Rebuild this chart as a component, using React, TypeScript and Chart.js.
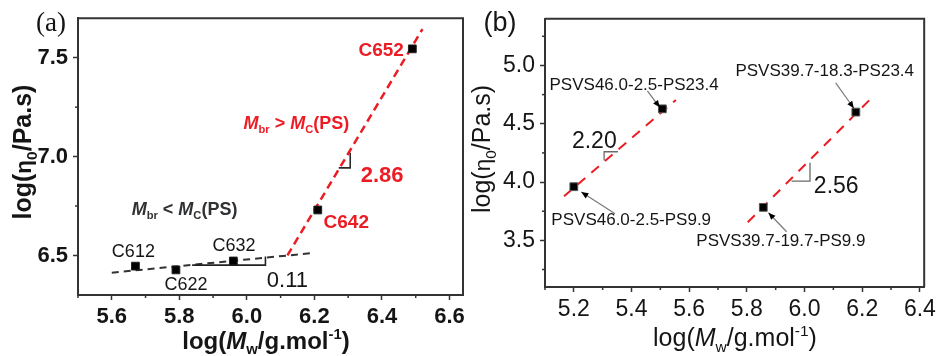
import React, { useEffect, useRef } from 'react';
import { Chart, registerables } from 'chart.js';

Chart.register(...registerables);

const FONT = '"Liberation Sans", Arial, Helvetica, sans-serif';
const SERIF = '"Liberation Serif", "Times New Roman", serif';
const RED = '#ec1c24';
const AXIS = '#333333';
const INK = '#151515';

// ---------- Panel (a) data ----------
const aNames = ['C612', 'C622', 'C632', 'C642', 'C652'];
const aLogMw = [5.67, 5.79, 5.96, 6.21, 6.49];
const aLogEta = [6.446, 6.427, 6.472, 6.73, 7.545];
const aLowFitX = [5.6, 6.2];
const aLowFitY = [6.413, 6.513];
const aHighFitX = [6.12, 6.52];
const aHighFitY = [6.5, 7.645];
const aLowSlopeX = [5.838, 6.055, 6.055];
const aLowSlopeY = [6.451, 6.451, 6.495];
const aHighSlopeX = [6.272, 6.306, 6.306];
const aHighSlopeY = [6.943, 6.943, 7.02];
const aXTicks = [5.6, 5.8, 6.0, 6.2, 6.4, 6.6];
const aXMinor = [5.5, 5.7, 5.9, 6.1, 6.3, 6.5];
const aYTicks = [6.5, 7.0, 7.5];
const aYMinor = [6.75, 7.25];

// ---------- Panel (b) data ----------
const bNames = ['PSVS46.0-2.5-PS9.9', 'PSVS46.0-2.5-PS23.4', 'PSVS39.7-19.7-PS9.9', 'PSVS39.7-18.3-PS23.4'];
const bLogMw = [5.2, 5.507, 5.857, 6.178];
const bLogEta = [3.96, 4.628, 3.783, 4.6];
const bFit1X = [5.166, 5.554];
const bFit1Y = [3.878, 4.704];
const bFit2X = [5.803, 6.24];
const bFit2Y = [3.655, 4.74];
const bSlope1X = [5.353, 5.305, 5.305];
const bSlope1Y = [4.26, 4.26, 4.185];
const bSlope2X = [5.955, 6.019, 6.019];
const bSlope2Y = [4.008, 4.008, 4.166];
const bArrowFromX = [5.343, 5.455, 5.938, 6.108];
const bArrowFromY = [3.729, 4.782, 3.574, 4.851];
const bArrowToX = [5.226, 5.498, 5.875, 6.171];
const bArrowToY = [3.914, 4.641, 3.737, 4.633];
const bXTicks = [5.2, 5.4, 5.6, 5.8, 6.0, 6.2, 6.4];
const bXMinor = [5.1, 5.3, 5.5, 5.7, 5.9, 6.1, 6.3];
const bYTicks = [3.5, 4.0, 4.5, 5.0];
const bYMinor = [3.25, 3.75, 4.25, 4.75, 5.25];

type Seg = { t: string; i?: boolean; sub?: boolean; sup?: boolean; k?: number };

function segFont(s: Seg, size: number, bold: boolean, family: string) {
  const sz = s.sub || s.sup ? size * 0.62 : size * (s.k || 1);
  return `${s.i ? 'italic ' : ''}${bold ? 'bold ' : ''}${sz}px ${family}`;
}

function drawRich(
  ctx: CanvasRenderingContext2D,
  segs: Seg[],
  x: number,
  y: number,
  align: string,
  size: number,
  bold: boolean,
  color: string,
  family: string = FONT,
  rotate = false
) {
  ctx.save();
  ctx.fillStyle = color;
  ctx.textBaseline = 'alphabetic';
  ctx.textAlign = 'left';
  ctx.translate(x, y);
  if (rotate) ctx.rotate(-Math.PI / 2);
  let total = 0;
  const widths = segs.map((s) => {
    ctx.font = segFont(s, size, bold, family);
    const w = ctx.measureText(s.t).width;
    total += w;
    return w;
  });
  let cx = align === 'center' ? -total / 2 : align === 'right' ? -total : 0;
  const base = size * 0.36;
  segs.forEach((s, k) => {
    ctx.font = segFont(s, size, bold, family);
    const dy = s.sub ? size * 0.22 : s.sup ? -size * 0.4 : 0;
    ctx.fillText(s.t, cx, base + dy);
    cx += widths[k];
  });
  ctx.restore();
}

type Label = { x: number; y: number; segs: Seg[]; align: string; size: number; bold: boolean; color: string };
type Fixed = { px: number; py: number; segs: Seg[]; size: number; bold: boolean; color: string; family?: string; rotate?: boolean };

function overlayPlugin(spec: { xMinor: number[]; yMinor: number[]; labels: Label[]; fixed: Fixed[] }) {
  return {
    id: 'overlay',
    afterDatasetsDraw(chart: any) {
      const ctx: CanvasRenderingContext2D = chart.ctx;
      const { left, right, top, bottom } = chart.chartArea;
      const xs = chart.scales.x;
      const ys = chart.scales.y;
      ctx.save();
      // arrows
      chart.data.datasets.forEach((ds: any, i: number) => {
        if (!ds.arrowHead) return;
        const meta = chart.getDatasetMeta(i);
        const p0 = meta.data[0];
        const p1 = meta.data[1];
        const ang = Math.atan2(p1.y - p0.y, p1.x - p0.x);
        const L = 7;
        const W = 3;
        ctx.fillStyle = '#000';
        ctx.beginPath();
        ctx.moveTo(p1.x, p1.y);
        ctx.lineTo(p1.x - L * Math.cos(ang) + W * Math.sin(ang), p1.y - L * Math.sin(ang) - W * Math.cos(ang));
        ctx.lineTo(p1.x - L * Math.cos(ang) - W * Math.sin(ang), p1.y - L * Math.sin(ang) + W * Math.cos(ang));
        ctx.closePath();
        ctx.fill();
      });
      // frame
      ctx.strokeStyle = AXIS;
      ctx.lineWidth = 2;
      ctx.beginPath();
      ctx.moveTo(left, top);
      ctx.lineTo(right, top);
      ctx.lineTo(right, bottom);
      ctx.stroke();
      // minor ticks
      ctx.lineWidth = 1.5;
      spec.xMinor.forEach((v) => {
        const p = xs.getPixelForValue(v);
        ctx.beginPath();
        ctx.moveTo(p, bottom);
        ctx.lineTo(p, bottom + 3);
        ctx.stroke();
      });
      spec.yMinor.forEach((v) => {
        const p = ys.getPixelForValue(v);
        ctx.beginPath();
        ctx.moveTo(left, p);
        ctx.lineTo(left - 3, p);
        ctx.stroke();
      });
      spec.labels.forEach((l) =>
        drawRich(ctx, l.segs, xs.getPixelForValue(l.x), ys.getPixelForValue(l.y), l.align, l.size, l.bold, l.color)
      );
      spec.fixed.forEach((f) =>
        drawRich(ctx, f.segs, f.px, f.py, 'center', f.size, f.bold, f.color, f.family || FONT, !!f.rotate)
      );
      ctx.restore();
    },
  };
}

function axis(ticks: number[], min: number, max: number, isX: boolean, extent: number, size: number, bold: boolean) {
  return {
    type: 'linear',
    min,
    max,
    afterBuildTicks: (scale: any) => {
      scale.ticks = ticks.map((v) => ({ value: v }));
    },
    afterFit: (scale: any) => {
      if (isX) scale.height = extent;
      else scale.width = extent;
    },
    grid: { display: true, drawOnChartArea: false, drawTicks: true, tickLength: 5, tickColor: AXIS, tickWidth: 1.5 },
    border: { display: true, color: AXIS, width: 2 },
    ticks: {
      color: INK,
      autoSkip: false,
      maxRotation: 0,
      padding: isX ? 4 : 5,
      font: { family: FONT, size, weight: bold ? 'bold' : 'normal' },
      callback: (v: any) => Number(v).toFixed(1),
    },
    title: { display: false },
  };
}

const pts = (xs: number[], ys: number[]) => xs.map((x, i) => ({ x, y: ys[i] }));

const mwTitle = (): Seg[] => [{ t: 'log(' }, { t: 'M', i: true }, { t: 'w', sub: true }, { t: '/g.mol' }, { t: '-1', sup: true }, { t: ')' }];
const etaTitle = (): Seg[] => [{ t: 'log(' }, { t: 'η', k: 0.9 }, { t: '0', sub: true }, { t: '/Pa.s)' }];

function configA() {
  const lineDs = (xs: number[], ys: number[], color: string, width: number, dash: number[]) => ({
    data: pts(xs, ys),
    showLine: true,
    pointRadius: 0,
    borderColor: color,
    borderWidth: width,
    borderDash: dash,
    fill: false,
    tension: 0,
  });
  const labels: Label[] = [
    { x: 6.465, y: 7.541, segs: [{ t: aNames[4] }], align: 'right', size: 19, bold: true, color: RED },
    { x: 6.227, y: 6.674, segs: [{ t: aNames[3] }], align: 'left', size: 19, bold: true, color: RED },
    { x: 5.664, y: 6.526, segs: [{ t: aNames[0] }], align: 'center', size: 18, bold: false, color: INK },
    { x: 5.82, y: 6.359, segs: [{ t: aNames[1] }], align: 'center', size: 18, bold: false, color: INK },
    { x: 5.962, y: 6.556, segs: [{ t: aNames[2] }], align: 'center', size: 18, bold: false, color: INK },
    { x: 6.337, y: 6.91, segs: [{ t: '2.86' }], align: 'left', size: 22, bold: true, color: RED },
    { x: 6.059, y: 6.383, segs: [{ t: '0.11' }], align: 'left', size: 22, bold: false, color: INK },
    {
      x: 5.99, y: 7.171, align: 'left', size: 18, bold: true, color: RED,
      segs: [{ t: 'M', i: true }, { t: 'br', sub: true }, { t: ' > ' }, { t: 'M', i: true }, { t: 'C', sub: true }, { t: '(PS)' }],
    },
    {
      x: 5.659, y: 6.738, align: 'left', size: 18, bold: true, color: '#2f3133',
      segs: [{ t: 'M', i: true }, { t: 'br', sub: true }, { t: ' < ' }, { t: 'M', i: true }, { t: 'C', sub: true }, { t: '(PS)' }],
    },
  ];
  const fixed: Fixed[] = [
    { px: 51, py: 21, segs: [{ t: '(a)' }], size: 27, bold: false, color: INK, family: SERIF },
    { px: 266, py: 340, segs: mwTitle(), size: 24, bold: true, color: INK },
    { px: 22, py: 152, segs: etaTitle(), size: 25, bold: true, color: INK, rotate: true },
  ];
  return {
    type: 'scatter',
    data: {
      datasets: [
        {
          data: pts(aLogMw, aLogEta),
          pointStyle: 'rect',
          pointRadius: 5.5,
          backgroundColor: '#000',
          borderColor: '#222',
          borderWidth: 1,
        },
        lineDs(aLowSlopeX, aLowSlopeY, '#222', 1.6, []),
        lineDs(aHighSlopeX, aHighSlopeY, '#2b2b2b', 1.6, []),
        lineDs(aLowFitX, aLowFitY, '#333', 2, [7, 5]),
        lineDs(aHighFitX, aHighFitY, RED, 2.5, [8, 5]),
      ],
    },
    options: {
      responsive: false,
      devicePixelRatio: 1,
      animation: false,
      layout: { padding: { left: 0, right: 7, top: 10, bottom: 0 } },
      plugins: { legend: { display: false }, tooltip: { enabled: false } },
      scales: {
        x: axis(aXTicks, 5.5, 6.64, true, 61, 22, true),
        y: axis(aYTicks, 6.3, 7.7, false, 78, 22, true),
      },
    },
    plugins: [overlayPlugin({ xMinor: aXMinor, yMinor: aYMinor, labels, fixed })],
  };
}

function configB() {
  const lineDs = (xs: number[], ys: number[], color: string, width: number, dash: number[], arrow = false) => ({
    data: pts(xs, ys),
    showLine: true,
    pointRadius: 0,
    borderColor: color,
    borderWidth: width,
    borderDash: dash,
    fill: false,
    tension: 0,
    arrowHead: arrow,
  });
  const labels: Label[] = [
    { x: 5.399, y: 3.688, segs: [{ t: bNames[0] }], align: 'center', size: 17, bold: false, color: INK },
    { x: 5.409, y: 4.845, segs: [{ t: bNames[1] }], align: 'center', size: 17, bold: false, color: INK },
    { x: 5.918, y: 3.5, segs: [{ t: bNames[2] }], align: 'center', size: 17, bold: false, color: INK },
    { x: 6.07, y: 4.959, segs: [{ t: bNames[3] }], align: 'center', size: 17, bold: false, color: INK },
    { x: 5.271, y: 4.362, segs: [{ t: '2.20' }], align: 'center', size: 23, bold: false, color: INK },
    { x: 6.11, y: 3.981, segs: [{ t: '2.56' }], align: 'center', size: 23, bold: false, color: INK },
  ];
  const fixed: Fixed[] = [
    { px: 30, py: 21, segs: [{ t: '(b)' }], size: 27, bold: false, color: INK },
    { px: 265, py: 337, segs: mwTitle(), size: 25, bold: false, color: INK },
    { px: 11, py: 149, segs: etaTitle(), size: 25, bold: false, color: INK, rotate: true },
  ];
  const arrows = bArrowFromX.map((_, i) =>
    lineDs([bArrowFromX[i], bArrowToX[i]], [bArrowFromY[i], bArrowToY[i]], '#7a7a7a', 1.2, [], true)
  );
  return {
    type: 'scatter',
    data: {
      datasets: [
        {
          data: pts(bLogMw, bLogEta),
          pointStyle: 'rect',
          pointRadius: 5.5,
          backgroundColor: '#000',
          borderColor: '#555',
          borderWidth: 1,
        },
        ...arrows,
        lineDs(bSlope1X, bSlope1Y, '#6a6a6a', 1.3, []),
        lineDs(bSlope2X, bSlope2Y, '#6a6a6a', 1.3, []),
        lineDs(bFit1X, bFit1Y, RED, 2, [10, 8]),
        lineDs(bFit2X, bFit2Y, RED, 2, [10, 8]),
      ],
    },
    options: {
      responsive: false,
      devicePixelRatio: 1,
      animation: false,
      layout: { padding: { left: 0, right: 13, top: 6, bottom: 0 } },
      plugins: { legend: { display: false }, tooltip: { enabled: false } },
      scales: {
        x: axis(bXTicks, 5.1, 6.415, true, 69, 23, false),
        y: axis(bYTicks, 3.1, 5.4, false, 75, 23, false),
      },
    },
    plugins: [overlayPlugin({ xMinor: bXMinor, yMinor: bYMinor, labels, fixed })],
  };
}

function Panel({ make, left }: { make: () => any; left: number }) {
  const ref = useRef<HTMLCanvasElement | null>(null);
  useEffect(() => {
    const chart = new Chart(ref.current as HTMLCanvasElement, make());
    return () => chart.destroy();
  }, []);
  return (
    <canvas
      ref={ref}
      width={470}
      height={356}
      style={{ position: 'absolute', left, top: 0, width: 470, height: 356 }}
    />
  );
}

export default function App() {
  return (
    <div style={{ position: 'fixed', left: 0, top: 0, width: 940, height: 356, background: '#fff', overflow: 'hidden' }}>
      <Panel make={configA} left={0} />
      <Panel make={configB} left={470} />
    </div>
  );
}
